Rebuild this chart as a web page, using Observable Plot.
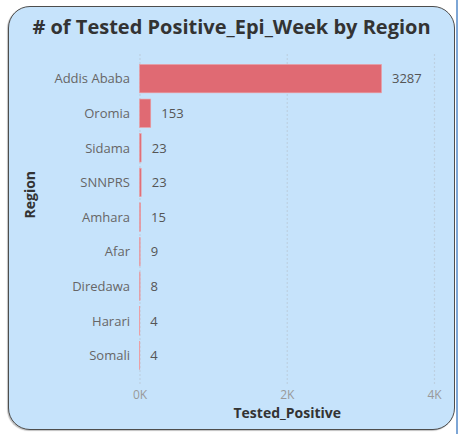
<!DOCTYPE html>
<html>
<head>
<meta charset="utf-8">
<script src="https://cdn.jsdelivr.net/npm/d3@7"></script>
<script src="https://cdn.jsdelivr.net/npm/@observablehq/plot@0.6"></script>
<style>
  html, body { margin: 0; padding: 0; background: #ffffff; width: 461px; height: 434px; overflow: hidden; }
  #edge { position: absolute; left: 456px; top: 0; width: 2px; height: 434px; background: #7da6d6; }
  #card {
    position: absolute; left: 8px; top: 6px; width: 445px; height: 422px;
    background: #c6e3fb; border: 1.5px solid #4d4d4d; border-radius: 22px;
    box-shadow: -1px 1px 1px rgba(0,0,0,0.25);
    overflow: hidden;
  }
  #title {
    position: absolute; left: 0; top: 6px; width: 445px; text-align: center;
    font-family: "Open Sans", sans-serif; font-weight: 700; font-size: 20px; color: #333;
    white-space: nowrap;
  }
  #chart { position: absolute; left: 0; top: 40px; }
</style>
</head>
<body>
<div id="edge"></div>
<div id="card">
  <div id="title"># of Tested Positive_Epi_Week by Region</div>
  <div id="chart"></div>
</div>
<script>
const regions = ["Addis Ababa", "Oromia", "Sidama", "SNNPRS", "Amhara", "Afar", "Diredawa", "Harari", "Somali"];
const positives = [3287, 153, 23, 23, 15, 9, 8, 4, 4];
const xTicks = [0, 2000, 4000];

const data = regions.map((r, i) => ({region: r, value: positives[i]}));

const plot = Plot.plot({
  width: 445,
  height: 382,
  marginLeft: 130.5,
  marginRight: 20,
  marginTop: 7.5,
  marginBottom: 44.5,
  style: {background: "transparent", fontFamily: "Open Sans, sans-serif", overflow: "visible"},
  x: {domain: [0, 4000], label: null},
  y: {domain: regions, paddingInner: 0.18, paddingOuter: 0.1, round: false, insetTop: 6.5, insetBottom: 11.4, label: null},
  marks: [
    Plot.gridX(xTicks, {stroke: "#b4bec8", strokeOpacity: 1, strokeDasharray: "1,3", strokeWidth: 1.2}),
    Plot.barX(data, {x: "value", y: "region", fill: "#e06a73", stroke: "#eba0a6", strokeWidth: 0.6}),
    Plot.text(data, {x: "value", y: "region", text: d => String(d.value), dx: 10, textAnchor: "start", fill: "#555", fontSize: 13}),
    Plot.axisY({tickSize: 0, tickPadding: 10, fontSize: 13, color: "#666", label: null}),
    Plot.axisX(xTicks, {tickSize: 0, tickPadding: 5, fontSize: 12, color: "#999", tickFormat: d => (d / 1000) + "K", label: null}),
    Plot.text(["Tested_Positive"], {frameAnchor: "bottom", lineAnchor: "middle", dy: 29, text: d => d, fontWeight: "bold", fontSize: 14, fill: "#333"}),
    Plot.text(["Region"], {frameAnchor: "left", lineAnchor: "middle", dx: -109.5, dy: -1.5, rotate: -90, text: d => d, fontWeight: "bold", fontSize: 14, fill: "#333"})
  ]
});
document.getElementById("chart").appendChild(plot);
</script>
</body>
</html>
